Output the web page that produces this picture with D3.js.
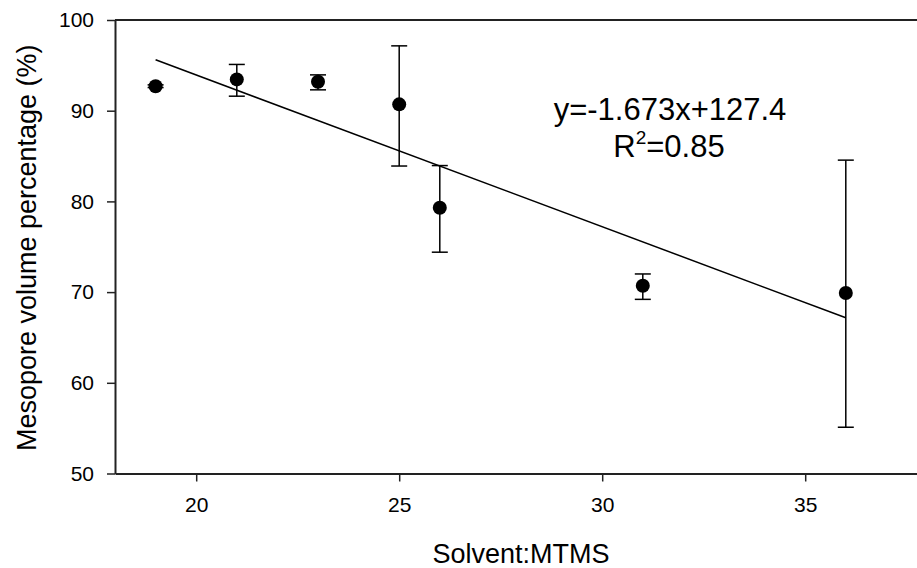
<!DOCTYPE html>
<html><head><meta charset="utf-8">
<script src="https://cdn.jsdelivr.net/npm/d3@7"></script>
<style>html,body{margin:0;padding:0;background:#fff;}svg{display:block;font-family:"Liberation Sans",Arial,sans-serif;}</style>
</head><body>
<script>
const solventRatio = [19, 21, 23, 25, 26, 31, 36];
const mesoporePct  = [92.7, 93.45, 93.2, 90.7, 79.3, 70.7, 69.9];
const errUpper     = [92.85, 95.1, 93.95, 97.15, 83.95, 72.0, 84.55];
const errLower     = [92.55, 91.6, 92.3, 83.9, 74.4, 69.2, 55.1];
const fitX = [19, 36];
const fitY = [95.61, 67.17];
const xTicks = [20, 25, 30, 35];
const yTicks = [50, 60, 70, 80, 90, 100];
const eqLine1 = "y=-1.673x+127.4";
const eqLine2 = ["R", "2", "=0.85"];

const W = 917, H = 568;
const svg = d3.select("body").append("svg").attr("width", W).attr("height", H);
const x = d3.scaleLinear().domain([18, 38]).range([115, 927]);
const y = d3.scaleLinear().domain([50, 100]).range([473.5, 20]);

const xAxis = svg.append("g").attr("transform", `translate(0,${y(50)})`)
  .call(d3.axisBottom(x).tickValues(xTicks).tickSize(8).tickPadding(16).tickSizeOuter(0));
const yAxis = svg.append("g").attr("transform", `translate(${x(18)},0)`)
  .call(d3.axisLeft(y).tickValues(yTicks).tickSize(8).tickPadding(13).tickSizeOuter(0));
svg.append("line").attr("x1", x(18)).attr("x2", x(38)).attr("y1", y(100)).attr("y2", y(100))
  .attr("stroke", "#222").attr("stroke-width", 2);
[xAxis, yAxis].forEach(g => {
  g.selectAll("path").attr("stroke", "#222").attr("stroke-width", 2);
  g.selectAll("line").attr("stroke", "#222").attr("stroke-width", 1.5);
  g.selectAll("text").attr("fill", "#000").style("font-size", "21px").style("font-family", '"Liberation Sans",Arial,sans-serif');
});

svg.append("line").attr("x1", x(fitX[0])).attr("y1", y(fitY[0])).attr("x2", x(fitX[1])).attr("y2", y(fitY[1]))
  .attr("stroke", "#000").attr("stroke-width", 1.5);

const idx = d3.range(solventRatio.length);
const eb = svg.append("g").attr("stroke", "#000").attr("stroke-width", 1.5);
eb.selectAll(".v").data(idx).join("line")
  .attr("x1", i => x(solventRatio[i])).attr("x2", i => x(solventRatio[i]))
  .attr("y1", i => y(errUpper[i])).attr("y2", i => y(errLower[i]));
eb.selectAll(".t").data(idx).join("line")
  .attr("x1", i => x(solventRatio[i]) - 8).attr("x2", i => x(solventRatio[i]) + 8)
  .attr("y1", i => y(errUpper[i])).attr("y2", i => y(errUpper[i]));
eb.selectAll(".b").data(idx).join("line")
  .attr("x1", i => x(solventRatio[i]) - 8).attr("x2", i => x(solventRatio[i]) + 8)
  .attr("y1", i => y(errLower[i])).attr("y2", i => y(errLower[i]));

svg.append("g").selectAll("circle").data(idx).join("circle")
  .attr("cx", i => x(solventRatio[i])).attr("cy", i => y(mesoporePct[i])).attr("r", 7).attr("fill", "#000");

svg.append("text").attr("x", 670).attr("y", 120).attr("text-anchor", "middle")
  .style("font-size", "31px").text(eqLine1);
const t2 = svg.append("text").attr("x", 669).attr("y", 157).attr("text-anchor", "middle").style("font-size", "31px");
t2.append("tspan").text(eqLine2[0]);
t2.append("tspan").attr("dy", -13).style("font-size", "19px").text(eqLine2[1]);
t2.append("tspan").attr("dy", 13).text(eqLine2[2]);

svg.append("text").attr("x", (x(18) + x(38)) / 2).attr("y", 563).attr("text-anchor", "middle")
  .style("font-size", "27px").text("Solvent:MTMS");
svg.append("text").attr("transform", `translate(36,${(y(50) + y(100)) / 2 + 1}) rotate(-90)`).attr("text-anchor", "middle")
  .style("font-size", "27px").text("Mesopore volume percentage (%)");
</script>
</body></html>
